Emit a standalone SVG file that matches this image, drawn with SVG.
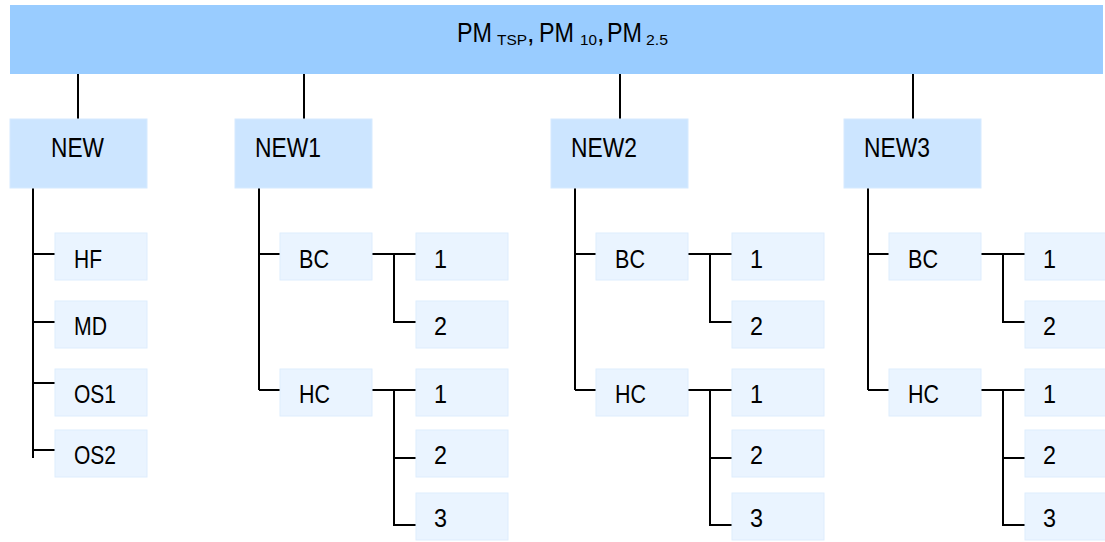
<svg xmlns="http://www.w3.org/2000/svg" width="1105" height="542" viewBox="0 0 1105 542">
<style>
text{font-family:"Liberation Sans",Arial,sans-serif;fill:#000}
.top{fill:#99CCFF}
.l1{fill:#CCE5FF;stroke:#D6EAFF;stroke-width:1}
.l2{fill:#EAF4FF;stroke:#DEEDFD;stroke-width:1}
.t1{font-size:28px}
.t2{font-size:25px}
.ts{font-size:27px}
.sub{font-size:15px}
#connectors path{fill:none;stroke:#000;stroke-width:2}
</style>
<rect width="1105" height="542" fill="#fff"/>
<g id="connectors">
<path d="M78 74V119M304 74V119M620 74V119M913 74V119"/>
<path d="M33 188V458M33 254H56M33 322H56M33 383H56M33 450H56"/>
<path d="M259 188V390M259 254H281M259 390H281M372 254H416M394 254V322H416M372 390H416M394 390V525H416M394 458H416"/>
<path d="M575 188V390M575 254H597M575 390H597M688 254H732M710 254V322H732M688 390H732M710 390V525H732M710 458H732"/>
<path d="M868 188V390M868 254H890M868 390H890M981 254H1025M1003 254V322H1025M981 390H1025M1003 390V525H1025M1003 458H1025"/>
</g>
<g id="root"><rect class="top" x="10" y="5" width="1093" height="69"/>
<text class="ts" y="42"><tspan x="457" textLength="35" lengthAdjust="spacingAndGlyphs">PM</tspan><tspan class="sub" x="497" y="45" textLength="30" lengthAdjust="spacingAndGlyphs">TSP</tspan><tspan x="527" y="42">,</tspan><tspan x="539" textLength="35" lengthAdjust="spacingAndGlyphs">PM</tspan><tspan class="sub" x="580" y="45" textLength="17" lengthAdjust="spacingAndGlyphs">10</tspan><tspan x="597" y="42">,</tspan><tspan x="607" textLength="35" lengthAdjust="spacingAndGlyphs">PM</tspan><tspan class="sub" x="646" y="45" textLength="22" lengthAdjust="spacingAndGlyphs">2.5</tspan></text></g>
<g id="new"><rect class="l1" x="10" y="119" width="137" height="69"/><text class="t1" x="51" y="157" textLength="53" lengthAdjust="spacingAndGlyphs">NEW</text></g>
<g id="new1"><rect class="l1" x="235" y="119" width="137" height="69"/><text class="t1" x="255" y="157" textLength="66" lengthAdjust="spacingAndGlyphs">NEW1</text></g>
<g id="new2"><rect class="l1" x="551" y="119" width="137" height="69"/><text class="t1" x="571" y="157" textLength="66" lengthAdjust="spacingAndGlyphs">NEW2</text></g>
<g id="new3"><rect class="l1" x="844" y="119" width="137" height="69"/><text class="t1" x="864" y="157" textLength="66" lengthAdjust="spacingAndGlyphs">NEW3</text></g>
<g id="new-hf"><rect class="l2" x="55" y="233" width="92" height="47"/><text class="t2" x="74" y="268" textLength="28" lengthAdjust="spacingAndGlyphs">HF</text></g>
<g id="new-md"><rect class="l2" x="55" y="301" width="92" height="47"/><text class="t2" x="74" y="335" textLength="33" lengthAdjust="spacingAndGlyphs">MD</text></g>
<g id="new-os1"><rect class="l2" x="55" y="369" width="92" height="47"/><text class="t2" x="74" y="403" textLength="42" lengthAdjust="spacingAndGlyphs">OS1</text></g>
<g id="new-os2"><rect class="l2" x="55" y="430" width="92" height="47"/><text class="t2" x="74" y="464" textLength="42" lengthAdjust="spacingAndGlyphs">OS2</text></g>
<g id="new1-bc"><rect class="l2" x="280" y="233" width="92" height="47"/><text class="t2" x="299" y="268" textLength="30" lengthAdjust="spacingAndGlyphs">BC</text></g>
<g id="new1-hc"><rect class="l2" x="280" y="369" width="92" height="47"/><text class="t2" x="299" y="403" textLength="31" lengthAdjust="spacingAndGlyphs">HC</text></g>
<g id="new1-bc1"><rect class="l2" x="416" y="233" width="92" height="47"/><text class="t2" x="434" y="268" textLength="13" lengthAdjust="spacingAndGlyphs">1</text></g>
<g id="new1-bc2"><rect class="l2" x="416" y="301" width="92" height="47"/><text class="t2" x="434" y="335" textLength="13" lengthAdjust="spacingAndGlyphs">2</text></g>
<g id="new1-hc1"><rect class="l2" x="416" y="369" width="92" height="47"/><text class="t2" x="434" y="403" textLength="13" lengthAdjust="spacingAndGlyphs">1</text></g>
<g id="new1-hc2"><rect class="l2" x="416" y="430" width="92" height="47"/><text class="t2" x="434" y="464" textLength="13" lengthAdjust="spacingAndGlyphs">2</text></g>
<g id="new1-hc3"><rect class="l2" x="416" y="493" width="92" height="47"/><text class="t2" x="434" y="527" textLength="13" lengthAdjust="spacingAndGlyphs">3</text></g>
<g id="new2-bc"><rect class="l2" x="596" y="233" width="92" height="47"/><text class="t2" x="615" y="268" textLength="30" lengthAdjust="spacingAndGlyphs">BC</text></g>
<g id="new2-hc"><rect class="l2" x="596" y="369" width="92" height="47"/><text class="t2" x="615" y="403" textLength="31" lengthAdjust="spacingAndGlyphs">HC</text></g>
<g id="new2-bc1"><rect class="l2" x="732" y="233" width="92" height="47"/><text class="t2" x="750" y="268" textLength="13" lengthAdjust="spacingAndGlyphs">1</text></g>
<g id="new2-bc2"><rect class="l2" x="732" y="301" width="92" height="47"/><text class="t2" x="750" y="335" textLength="13" lengthAdjust="spacingAndGlyphs">2</text></g>
<g id="new2-hc1"><rect class="l2" x="732" y="369" width="92" height="47"/><text class="t2" x="750" y="403" textLength="13" lengthAdjust="spacingAndGlyphs">1</text></g>
<g id="new2-hc2"><rect class="l2" x="732" y="430" width="92" height="47"/><text class="t2" x="750" y="464" textLength="13" lengthAdjust="spacingAndGlyphs">2</text></g>
<g id="new2-hc3"><rect class="l2" x="732" y="493" width="92" height="47"/><text class="t2" x="750" y="527" textLength="13" lengthAdjust="spacingAndGlyphs">3</text></g>
<g id="new3-bc"><rect class="l2" x="889" y="233" width="92" height="47"/><text class="t2" x="908" y="268" textLength="30" lengthAdjust="spacingAndGlyphs">BC</text></g>
<g id="new3-hc"><rect class="l2" x="889" y="369" width="92" height="47"/><text class="t2" x="908" y="403" textLength="31" lengthAdjust="spacingAndGlyphs">HC</text></g>
<g id="new3-bc1"><rect class="l2" x="1025" y="233" width="92" height="47"/><text class="t2" x="1043" y="268" textLength="13" lengthAdjust="spacingAndGlyphs">1</text></g>
<g id="new3-bc2"><rect class="l2" x="1025" y="301" width="92" height="47"/><text class="t2" x="1043" y="335" textLength="13" lengthAdjust="spacingAndGlyphs">2</text></g>
<g id="new3-hc1"><rect class="l2" x="1025" y="369" width="92" height="47"/><text class="t2" x="1043" y="403" textLength="13" lengthAdjust="spacingAndGlyphs">1</text></g>
<g id="new3-hc2"><rect class="l2" x="1025" y="430" width="92" height="47"/><text class="t2" x="1043" y="464" textLength="13" lengthAdjust="spacingAndGlyphs">2</text></g>
<g id="new3-hc3"><rect class="l2" x="1025" y="493" width="92" height="47"/><text class="t2" x="1043" y="527" textLength="13" lengthAdjust="spacingAndGlyphs">3</text></g>
</svg>
